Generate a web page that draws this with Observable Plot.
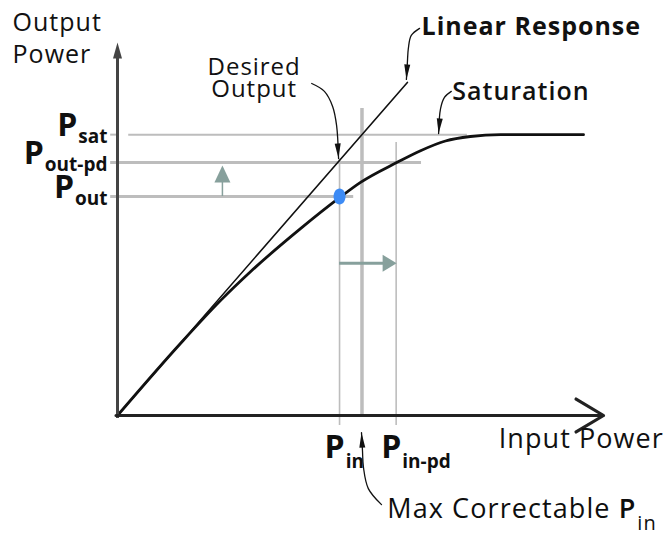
<!DOCTYPE html>
<html><head><meta charset="utf-8">
<script src="https://cdn.jsdelivr.net/npm/d3@7"></script>
<script src="https://cdn.jsdelivr.net/npm/@observablehq/plot@0.6"></script>
<style>body{margin:0;background:#fff}</style>
</head><body><div id="chart"></div>
<script>
// ---- data (abstract units, 0–100 on each axis) ----
const levelSubs = ["sat", "out-pd", "out"];
const levelValues = [75.3, 67.8, 58.7];
const inputSubs = ["in", "in-pd"];
const inputValues = [45.5, 57.1];
const maxCorrectable = 50.1;
const pinOperating = 45.5, poutOperating = 58.7;

// saturating (actual) response
const satX = [0, 12.9, 21.1, 27.3, 37.5, 45.5, 49.8, 57.2, 62.1, 67.2, 72.3, 78.5, 95.5];
const satY = [0, 19.3, 30.8, 38.6, 50.1, 58.4, 62.5, 67.8, 71.0, 73.6, 74.8, 75.3, 75.3];
// ideal linear response
const linX = [0, 59.4];
const linY = [0, 89.3];

// horizontal guide segments
const hGuideY  = [75.3, 75.3, 67.8, 58.7];
const hGuideX1 = [-1.4, 2.3, -1.4, -1.4];
const hGuideX2 = [-0.2, 71.7, 62.3, 48.4];
// vertical guide segments
const vGuideX  = [45.5, 50.1, 57.1];
const vGuideY1 = [-2.7, 0, -2.7];
const vGuideY2 = [68.8, 82.3, 73.2];

// shift arrows
const upArrowX = 21.5, upArrowFrom = 58.7, upArrowTo = 67.0;
const rightArrowY = 40.8, rightArrowFrom = 45.5, rightArrowTo = 57.2;

// callout leader paths (end point = arrow tip)
const calloutLinear = [[61.9,103.8],[60.2,101.9],[59.6,98.4],[59.4,94.6],[59.2,90.1]];
const calloutSat    = [[68.4,86.9],[67.0,85.3],[66.2,82.3],[65.8,75.6]];
const calloutDesired= [[39.8,89.0],[42.4,86.9],[44.1,82.8],[44.9,77.7],[45.3,68.9]];
const calloutMax    = [[54.1,-23.9],[51.4,-19.6],[50.4,-13.9],[50.2,-9.4],[50.0,-4.6]];
const callouts = [calloutLinear, calloutSat, calloutDesired, calloutMax];

// annotation texts
const linearText = "Linear Response", linearX = 62.3, linearY = 101.9;
const satText = "Saturation", satTextX = 68.6, satTextY = 84.7;
const desiredText = "Desired\nOutput", desiredX = 28.0, desiredY = 85.3;
const yTitle = "Output\nPower", yTitleX = -21.5, yTitleY = 94.6;
const xTitle = "Input Power", xTitleX = 78.1, xTitleY = -8.8;
const maxText = "Max Correctable ", maxSub = "in", maxTextX = 55.3, maxTextY = -27.6;

// ---- scales ----
const xDomain = [0, 100], xRange = [117, 605];
const yDomain = [0, 100], yRange = [415, 42];
const sx = d3.scaleLinear(xDomain, xRange), sy = d3.scaleLinear(yDomain, yRange);

// ---- symbols ----
function triangleHead(w, h) {
  return {draw(ctx) { ctx.moveTo(0, 0); ctx.lineTo(w / 2, h); ctx.lineTo(-w / 2, h); ctx.closePath(); }};
}
const ellipseSym = {draw(ctx) {
  const rx = 6, ry = 8, k = 0.5523;
  ctx.moveTo(rx, 0);
  ctx.bezierCurveTo(rx, ry * k, rx * k, ry, 0, ry);
  ctx.bezierCurveTo(-rx * k, ry, -rx, ry * k, -rx, 0);
  ctx.bezierCurveTo(-rx, -ry * k, -rx * k, -ry, 0, -ry);
  ctx.bezierCurveTo(rx * k, -ry, rx, -ry * k, rx, 0);
  ctx.closePath();
}};
function headAngle(pts) {
  const a = pts[pts.length - 2], b = pts[pts.length - 1];
  const dx = sx(b[0]) - sx(a[0]), dy = sy(b[1]) - sy(a[1]);
  return Math.atan2(dx, -dy) * 180 / Math.PI;
}

const guide = "#bdbdbd", teal = "#87a09c", ink = "#111";
const satIdx = d3.range(satX.length);
const hIdx = d3.range(hGuideY.length);
const vIdx = d3.range(vGuideX.length);
const hWidths = [2, 2, 3, 3];
const vWidths = [1.6, 3.5, 1.6];

const chart = Plot.plot({
  width: 666, height: 536, margin: 0,
  x: {domain: xDomain, range: xRange, axis: null},
  y: {domain: yDomain, range: yRange, axis: null},
  style: {fontFamily: "'Open Sans', sans-serif", background: "#fff", overflow: "visible"},
  marks: [
    // guides
    Plot.ruleY(hIdx, {y: i => hGuideY[i], x1: i => hGuideX1[i], x2: i => hGuideX2[i], stroke: guide, strokeWidth: i => hWidths[i]}),
    Plot.ruleX(vIdx, {x: i => vGuideX[i], y1: i => vGuideY1[i], y2: i => vGuideY2[i], stroke: guide, strokeWidth: i => vWidths[i]}),
    // shift arrows
    Plot.ruleX([upArrowX], {x: d => d, y1: upArrowFrom, y2: upArrowTo - 3.5, stroke: teal, strokeWidth: 1.5}),
    Plot.dot([upArrowX], {x: d => d, y: upArrowTo, symbol: triangleHead(16, 17), fill: teal, stroke: "none"}),
    Plot.ruleY([rightArrowY], {y: d => d, x1: rightArrowFrom, x2: rightArrowTo - 2.5, stroke: teal, strokeWidth: 3}),
    Plot.dot([rightArrowY], {x: rightArrowTo, y: d => d, rotate: 90, symbol: triangleHead(17, 14), fill: teal, stroke: "none"}),
    // response curves
    Plot.line(d3.range(linX.length), {x: i => linX[i], y: i => linY[i], stroke: ink, strokeWidth: 1.6}),
    Plot.line(satIdx, {x: i => satX[i], y: i => satY[i], curve: "monotone-x", stroke: ink, strokeWidth: 2.8}),
    // operating point
    Plot.dot([0], {x: pinOperating, y: poutOperating, symbol: ellipseSym, fill: "#3d8bf5", stroke: "none"}),
    // axes
    Plot.ruleX([0], {x: d => d, y1: -0.8, y2: 97, stroke: "#444", strokeWidth: 3}),
    Plot.dot([0], {x: d => d, y: 100, symbol: triangleHead(9, 16), fill: "#444", stroke: "none"}),
    Plot.arrow([0], {x1: -0.3, y1: 0, x2: 99.6, y2: 0, stroke: "#222", strokeWidth: 3.2, headLength: 15, headAngle: 62}),
    // callouts
    ...callouts.map(c => Plot.line(c, {x: d => d[0], y: d => d[1], curve: "catmull-rom", stroke: ink, strokeWidth: 1.3})),
    Plot.dot(callouts, {x: c => c[c.length - 1][0], y: c => c[c.length - 1][1], rotate: c => headAngle(c), symbol: triangleHead(6, 15), fill: ink, stroke: "none"}),
    // texts
    Plot.text([yTitle], {x: yTitleX, y: yTitleY, text: d => d, textAnchor: "start", lineAnchor: "bottom", lineHeight: 1.28, fontSize: 25, fontWeight: 500, fill: "#111"}),
    Plot.text([linearText], {x: linearX, y: linearY, text: d => d, textAnchor: "start", lineAnchor: "bottom", fontSize: 25, fontWeight: 700, fill: "#111"}),
    Plot.text([satText], {x: satTextX, y: satTextY, text: d => d, textAnchor: "start", lineAnchor: "bottom", fontSize: 25, fontWeight: 600, fill: "#111"}),
    Plot.text([desiredText], {x: desiredX, y: desiredY, text: d => d, textAnchor: "middle", lineAnchor: "bottom", lineHeight: 0.92, fontSize: 24, fontWeight: 500, fill: "#111"}),
    Plot.text([xTitle], {x: xTitleX, y: xTitleY, text: d => d, textAnchor: "start", lineAnchor: "bottom", fontSize: 27, fontWeight: 500, fill: "#111"}),
    Plot.text([maxText], {x: maxTextX, y: maxTextY, text: d => d, textAnchor: "start", lineAnchor: "bottom", fontSize: 27, fontWeight: 500, fill: "#0e0e0e"}),
    Plot.text(levelValues, {x: 0, y: d => d, text: () => "P", dx: -10, dy: 1, textAnchor: "end", lineAnchor: "bottom", fontSize: 32, fontWeight: 700, fill: "#101010"}),
    Plot.text(inputValues, {x: d => d, y: 0, text: () => "P", dx: -15, dy: 42, textAnchor: "start", lineAnchor: "bottom", fontSize: 32, fontWeight: 700, fill: "#0f0f0f"})
  ]
});
document.getElementById("chart").append(chart);

// subscripts as tspans
const svg = d3.select(chart);
svg.selectAll("text").style("letter-spacing", "0.04em");
svg.selectAll('g[fill="#101010"] text').style("letter-spacing", "0").each(function(i) {
  d3.select(this).append("tspan").attr("font-size", 19).attr("dy", 7).attr("dx", 1).text(levelSubs[i]);
});
svg.selectAll('g[fill="#0f0f0f"] text').style("letter-spacing", "0").each(function(i) {
  d3.select(this).append("tspan").attr("font-size", 19).attr("dy", 10).attr("dx", 1).text(inputSubs[i]);
});
svg.selectAll('g[fill="#0e0e0e"] text').each(function() {
  d3.select(this).append("tspan").attr("font-weight", 600).text("P");
  d3.select(this).append("tspan").attr("font-size", 20).attr("dy", 12).attr("dx", 1).text(maxSub);
});
</script>
</body></html>
